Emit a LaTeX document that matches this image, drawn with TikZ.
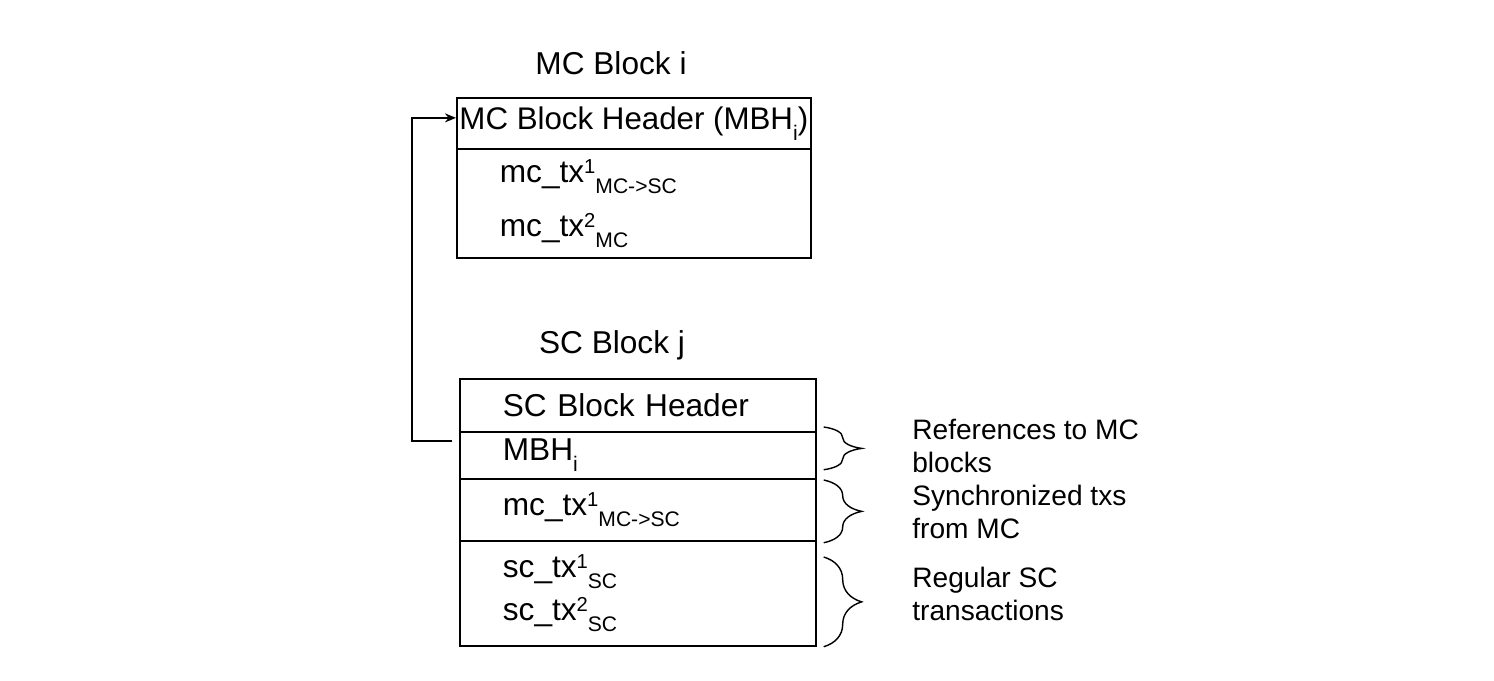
\documentclass[tikz,border=0pt]{standalone}
\usepackage{fontspec}
\setmainfont{Liberation Sans}
\usepackage{tikz}
\usetikzlibrary{arrows.meta, decorations.pathreplacing}

\newcommand\scr[1]{\fontsize{12}{14}\selectfont #1}
\newcommand\supsub[2]{\raisebox{5pt}{\fontsize{11.5}{14}\selectfont #1}\raisebox{-6.2pt}{\scr{#2}}}
\newcommand\onlysub[1]{\raisebox{-6.2pt}{\scr{#1}}}

\begin{document}
\begin{tikzpicture}[x=0.02cm, y=-0.02cm,
        row/.style = {draw, line width=1pt, anchor=north west, inner ysep=0pt},
        leftrow/.style = {row, inner xsep=0.86cm, align=left},
        note/.style = {anchor=west, inner sep=0pt, align=left,
                       font=\fontsize{16}{18.8}\selectfont},
        title/.style = {font=\fontsize{18}{22}\selectfont, inner sep=0pt},
        curly/.style = {decorate, decoration={brace, amplitude=0.76cm}, line width=0.8pt}]
                    \useasboundingbox (0,0) rectangle (1494,680);

                    % main chain block
                    \draw
                        (611, 63) node[title](mctitle){MC Block i}
                        (456, 97) node[row, inner xsep=0pt, minimum width=7.08cm, minimum height=1.02cm, align=center,
                                       font=\fontsize{17.8}{22}\selectfont](mch){MC Block Header (MBH\onlysub{i})}
                        (456,148) node[leftrow, minimum width=7.08cm, minimum height=2.18cm, text width=5.36cm,
                                       font=\fontsize{18}{30.7}\selectfont](mcb){mc\_tx\supsub{1}{MC->SC}\\
                                                                                mc\_tx\supsub{2}{MC}}
                    ;

                    % sidechain block
                    \draw
                        (612,345) node[title](sctitle){SC Block j}
                        (459,378) node[leftrow, minimum width=7.12cm, minimum height=1.06cm, text width=5.4cm,
                                       font=\fontsize{18}{22}\selectfont](sch){SC Block Header}
                        (459,431) node[leftrow, minimum width=7.12cm, minimum height=0.94cm, text width=5.4cm,
                                       font=\fontsize{18}{22}\selectfont](mbh){MBH\onlysub{i}}
                        (459,478) node[leftrow, minimum width=7.12cm, minimum height=1.24cm, text width=5.4cm,
                                       font=\fontsize{18}{22}\selectfont](smc){mc\_tx\supsub{1}{MC->SC}}
                        (459,540) node[leftrow, minimum width=7.12cm, minimum height=2.1cm, text width=5.4cm,
                                       font=\fontsize{18}{24.4}\selectfont](stx){sc\_tx\supsub{1}{SC}\\
                                                                                sc\_tx\supsub{2}{SC}}
                    ;

                    % notes
                    \draw
                        (912,445.5) node[note](refl){References to MC\\blocks}
                        (912,512)   node[note](synl){Synchronized txs\\from MC}
                        (912,594)   node[note](regl){Regular SC\\transactions}
                    ;

                    \draw[curly] ([shift={(7,-4)}]mbh.north east) -- ([shift={(7,-10)}]mbh.south east);
                    \draw[curly] ([shift={(7,2)}]smc.north east) -- ([shift={(7,1)}]smc.south east);
                    \draw[curly] ([shift={(7,17)}]stx.north east) -- ([xshift=0.14cm]stx.south east);

                    \draw[-{Stealth[length=0.22cm, width=0.18cm]}, line width=1pt]
                        ([shift={(-7,-14.5)}]mbh.west) -- ++(-40,0) |- ([yshift=0.11cm]mch.west);

                \end{tikzpicture}
\end{document}
